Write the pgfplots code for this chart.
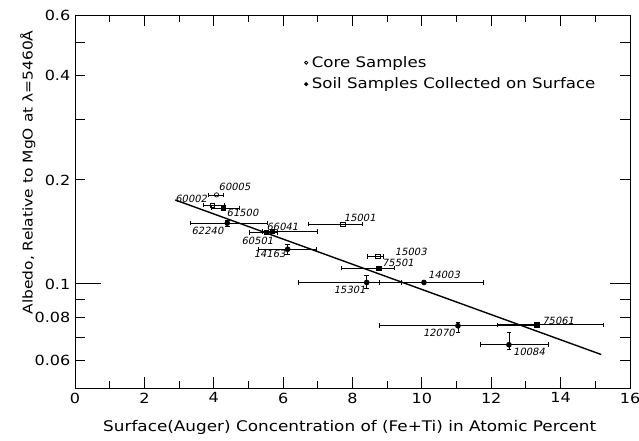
\documentclass[border=0pt]{standalone}
\usepackage{fontspec}
\setmainfont{DejaVu Sans}[FakeStretch=1.15]
\newfontfamily\labfont{DejaVu Sans}[FakeSlant=0.2]
\usepackage{pgfplots}
\usepackage{pgfplotstable}
\pgfplotsset{compat=1.18}
\pgfplotsset{dotlegend/.style={legend image code/.code={\draw[##1] plot coordinates {(0cm,0cm)};}}}

% x y exm exp eym eyp
\pgfplotstableread{
x y exm exp eym eyp
4.08 0.181 0.25 0.20 0 0
}\opencirc
\pgfplotstableread{
x y exm exp eym eyp
3.96 0.169 0.25 0.35 0 0
7.72 0.149 1.00 0.55 0 0
8.73 0.120 0.30 0.15 0 0
}\opensq
\pgfplotstableread{
x y exm exp eym eyp
4.28 0.166 0.35 0.45 0 0
5.69 0.142 0.30 1.30 0 0
5.52 0.141 0.50 0.30 0 0
8.76 0.111 1.10 0.45 0 0
13.32 0.0762 1.15 1.90 0 0
}\fillsq
\pgfplotstableread{
x y exm exp eym eyp
4.39 0.150 1.07 1.16 0.003 0.003
6.13 0.126 0.84 0.81 0.0044 0.004
8.41 0.101 1.97 0.98 0.0035 0.005
10.06 0.101 1.30 1.70 0 0
11.04 0.0757 2.28 2.28 0.0034 0.002
12.51 0.0667 0.84 1.13 0.0021 0.0056
}\fillcirc

\begin{document}
\begin{tikzpicture}
\begin{axis}[
  scale only axis, width=555bp, height=373bp,
  xmin=0, xmax=16, ymode=log, ymin=0.05, ymax=0.6,
  xtick={0,2,...,16},
  ytick={0.06,0.08,0.1,0.2,0.4,0.6},
  yticklabels={0.06,0.08,0.1,0.2,0.4,0.6},
  yminorticks=false,
  tick align=inside, major tick length=0pt, minor tick length=0pt,
  /pgf/number format/assume math mode=true,
  tick label style={font=\fontsize{14}{16}\selectfont},
  line width=0.8pt,
  xlabel={Surface(Auger) Concentration of (Fe+Ti) in Atomic Percent},
  ylabel={Albedo, Relative to MgO at λ=5460Å},
  xlabel style={font=\fontsize{14.7}{17}\selectfont, at={(axis description cs:0.495,-0.107)}, anchor=center},
  ylabel style={font=\fontsize{13.5}{16}\selectfont, at={(axis description cs:-0.085,0.578)}, anchor=center},
  xticklabel style={yshift=-1bp},
  yticklabel style={xshift=-1bp},
  legend style={at={(rel axis cs:0.413,0.89)}, anchor=north west, draw=none, fill=none,
    font=\fontsize{14.5}{17}\selectfont, row sep=9bp, inner sep=0pt,
    nodes={inner xsep=4bp, inner ysep=0pt}},
  legend cell align=left,
]
\addlegendimage{only marks, mark=o, mark size=1.6bp, black, dotlegend}
\addlegendentry{Core Samples}
\addlegendimage{only marks, mark=*, mark size=1.6bp, black, dotlegend}
\addlegendentry{Soil Samples Collected on Surface}

% tick marks (inside, on all four sides)
\pgfplotsinvokeforeach{0,2,...,16}{
  \draw[line width=1pt] (axis cs:#1,0.05) -- ([yshift=11bp]axis cs:#1,0.05);
  \draw[line width=1pt] (axis cs:#1,0.6) -- ([yshift=-11bp]axis cs:#1,0.6);
}
\pgfplotsinvokeforeach{1,3,...,15}{
  \draw[line width=1pt] (axis cs:#1,0.05) -- ([yshift=7bp]axis cs:#1,0.05);
  \draw[line width=1pt] (axis cs:#1,0.6) -- ([yshift=-7bp]axis cs:#1,0.6);
}
\pgfplotsinvokeforeach{0.06,0.07,0.08,0.09,0.2,0.3,0.4,0.5}{
  \draw[line width=1pt] (axis cs:0,#1) -- ([xshift=10bp]axis cs:0,#1);
  \draw[line width=1pt] (axis cs:16,#1) -- ([xshift=-10bp]axis cs:16,#1);
}
\draw[line width=1pt] (axis cs:0,0.1) -- ([xshift=26bp]axis cs:0,0.1);
\draw[line width=1pt] (axis cs:16,0.1) -- ([xshift=-20bp]axis cs:16,0.1);

\addplot[black, line width=1.4pt, forget plot] coordinates {(2.89,0.175) (15.17,0.0625)};

\pgfplotsset{every error bar/.style={line width=0.6pt, black}}
\addplot[only marks, mark=o, mark size=2.2bp, black, mark options={fill=white, line width=0.7pt}, forget plot,
  error bars/.cd, x dir=both, x explicit, y dir=both, y explicit]
  table[x=x, y=y, x error minus=exm, x error plus=exp, y error minus=eym, y error plus=eyp] {\opencirc};
\addplot[only marks, mark=square, mark size=2.2bp, black, mark options={fill=white, line width=0.7pt}, forget plot,
  error bars/.cd, x dir=both, x explicit, y dir=both, y explicit]
  table[x=x, y=y, x error minus=exm, x error plus=exp, y error minus=eym, y error plus=eyp] {\opensq};
\addplot[only marks, mark=square*, mark size=2.2bp, black, forget plot,
  error bars/.cd, x dir=both, x explicit, y dir=both, y explicit]
  table[x=x, y=y, x error minus=exm, x error plus=exp, y error minus=eym, y error plus=eyp] {\fillsq};
\addplot[only marks, mark=*, mark size=2.4bp, black, forget plot,
  error bars/.cd, x dir=both, x explicit, y dir=both, y explicit]
  table[x=x, y=y, x error minus=exm, x error plus=exp, y error minus=eym, y error plus=eyp] {\fillcirc};

\begin{scope}[every node/.style={font=\labfont\fontsize{10}{12}\selectfont, inner sep=0pt}]
\node at (axis cs:4.60,0.191) {60005};
\node at (axis cs:3.35,0.176) {60002};
\node at (axis cs:4.83,0.161) {61500};
\node at (axis cs:3.82,0.1426) {62240};
\node at (axis cs:5.98,0.146) {66041};
\node at (axis cs:5.26,0.1333) {60501};
\node at (axis cs:5.61,0.1222) {14163};
\node at (axis cs:8.21,0.155) {15001};
\node at (axis cs:9.68,0.124) {15003};
\node at (axis cs:9.31,0.115) {75501};
\node at (axis cs:7.92,0.0962) {15301};
\node at (axis cs:10.64,0.1064) {14003};
\node at (axis cs:10.49,0.0723) {12070};
\node at (axis cs:13.93,0.0783) {75061};
\node at (axis cs:13.09,0.0637) {10084};
\end{scope}
\end{axis}
\pgfresetboundingbox
\path ([xshift=-75bp,yshift=-53bp]current axis.south west) rectangle ([xshift=9bp,yshift=15bp]current axis.north east);
\end{tikzpicture}
\end{document}
